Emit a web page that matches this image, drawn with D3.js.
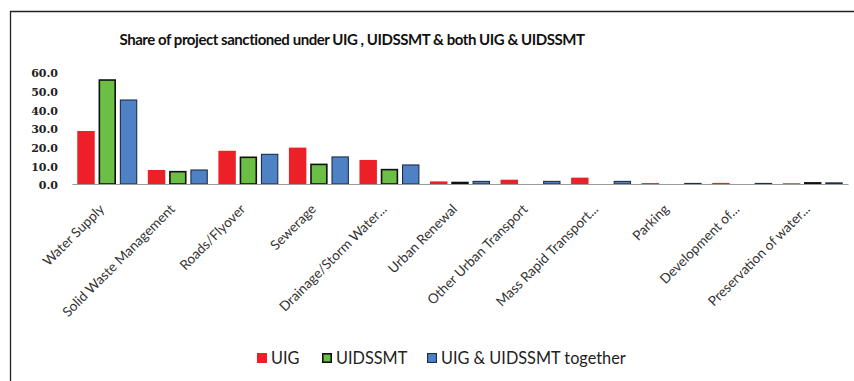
<!DOCTYPE html>
<html>
<head>
<meta charset="utf-8">
<script src="https://cdn.jsdelivr.net/npm/d3@7"></script>
<style>
  html, body { margin: 0; padding: 0; background: #fff; }
  svg { display: block; }
</style>
</head>
<body>
<svg id="chart" width="854" height="381"></svg>
<script>
// Project categories along the x axis
const categories = [
  "Water Supply", "Solid Waste Management", "Roads/Flyover", "Sewerage",
  "Drainage/Storm Water...", "Urban Renewal", "Other Urban Transport",
  "Mass Rapid Transport...", "Parking", "Development of...", "Preservation of water..."
];

// Share (%) of projects sanctioned in each scheme
const uigValues      = [28.4, 7.5, 17.8, 19.5, 12.9, 1.4, 2.3, 3.4, 0.5, 0.6, 0.4];
const uidssmtValues  = [55.7, 6.6, 14.3, 10.5, 7.7, 0.8, 0.0, 0.0, 0.0, 0.0, 0.6];
const togetherValues = [45.0, 7.5, 15.9, 14.5, 10.2, 1.4, 1.4, 1.4, 0.3, 0.3, 0.6];

const seriesNames = ["UIG", "UIDSSMT", "UIG & UIDSSMT together"];
const yTicks = [0, 10, 20, 30, 40, 50, 60];

const seriesStyle = {
  "UIG":                    { fill: "#ed1f27", stroke: "none",    sw: 0 },
  "UIDSSMT":                { fill: "#6cbf45", stroke: "#111",    sw: 1.6 },
  "UIG & UIDSSMT together": { fill: "#4f81c5", stroke: "#1d2f4a", sw: 1.1 }
};

const svg = d3.select("#chart");

// outer frame (continues past the right and bottom edges)
svg.append("path")
  .attr("d", "M10.5,400 V11.5 H900")
  .attr("fill", "none").attr("stroke", "#222").attr("stroke-width", 1.3);

// title
svg.append("text")
  .attr("x", 352).attr("y", 45)
  .attr("text-anchor", "middle")
  .attr("font-family", "Lato, 'Open Sans', sans-serif")
  .attr("font-weight", "bold")
  .attr("font-size", 15)
  .attr("letter-spacing", -0.45)
  .attr("fill", "#111")
  .text("Share of project sanctioned under UIG , UIDSSMT & both UIG & UIDSSMT");

const x0 = d3.scaleBand().domain(categories).range([72, 848])
  .paddingInner(0.15).paddingOuter(0.075);
const x1 = d3.scaleBand().domain(seriesNames).range([0, x0.bandwidth()])
  .paddingInner(0.18);
const y = d3.scaleLinear().domain([0, 60]).range([184, 72]);

const seriesData = {
  "UIG": uigValues,
  "UIDSSMT": uidssmtValues,
  "UIG & UIDSSMT together": togetherValues
};

// y axis labels only (no axis line or ticks)
const yAxis = d3.axisLeft(y).tickValues(yTicks).tickFormat(d3.format(".1f")).tickSize(0);
const yg = svg.append("g").attr("transform", "translate(58,0)").call(yAxis);
yg.select(".domain").remove();
yg.selectAll("text")
  .attr("font-family", "'DejaVu Serif', serif")
  .attr("font-weight", "bold")
  .attr("font-size", 11)
  .attr("fill", "#222")
  .attr("dy", "0.45em")
  .attr("x", 0);

// bars
const groups = svg.append("g").selectAll("g")
  .data(categories)
  .join("g")
  .attr("transform", d => `translate(${x0(d)},0)`);

groups.selectAll("rect")
  .data((c, i) => seriesNames.map(s => ({ s, v: seriesData[s][i] })).filter(d => d.v > 0))
  .join("rect")
  .attr("x", d => x1(d.s) + seriesStyle[d.s].sw / 2)
  .attr("width", d => x1.bandwidth() - seriesStyle[d.s].sw)
  .attr("y", d => y(d.v))
  .attr("height", d => y(0) - y(d.v))
  .attr("fill", d => seriesStyle[d.s].fill)
  .attr("stroke", d => seriesStyle[d.s].stroke)
  .attr("stroke-width", d => seriesStyle[d.s].sw);

// x axis baseline with rotated category labels
const xAxis = d3.axisBottom(x0).tickSize(0).tickPadding(0);
const xg = svg.append("g").attr("transform", "translate(0,184)").call(xAxis);
xg.select(".domain").attr("stroke", "#9a9a9a").attr("stroke-width", 1.2);
xg.selectAll("text")
  .attr("font-family", "Lato, 'Open Sans', sans-serif")
  .attr("font-size", 13.6)
  .attr("fill", "#333")
  .attr("text-anchor", "end")
  .attr("dy", 0)
  .attr("y", 0)
  .attr("transform", "translate(-2,26) rotate(-45)");

// legend
const legendItems = [
  { s: "UIG", x: 257 },
  { s: "UIDSSMT", x: 322 },
  { s: "UIG & UIDSSMT together", x: 427 }
];
const lg = svg.append("g");
const li = lg.selectAll("g").data(legendItems).join("g")
  .attr("transform", d => `translate(${d.x},353)`);
li.append("rect")
  .attr("x", d => seriesStyle[d.s].sw / 2).attr("y", d => seriesStyle[d.s].sw / 2)
  .attr("width", d => 10 - seriesStyle[d.s].sw).attr("height", d => 10 - seriesStyle[d.s].sw)
  .attr("fill", d => seriesStyle[d.s].fill)
  .attr("stroke", d => seriesStyle[d.s].stroke)
  .attr("stroke-width", d => seriesStyle[d.s].sw);
li.append("text")
  .attr("x", 14).attr("y", 10.5)
  .attr("font-family", "Lato, 'Open Sans', sans-serif")
  .attr("font-size", 16.3)
  .attr("fill", "#222")
  .text(d => d.s);
</script>
</body>
</html>
